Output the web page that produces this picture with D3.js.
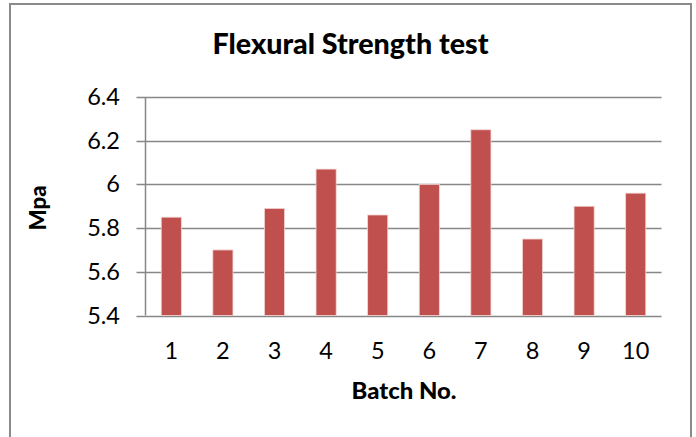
<!DOCTYPE html>
<html><head><meta charset="utf-8">
<script src="https://cdn.jsdelivr.net/npm/d3@7"></script>
<style>body{margin:0;background:#fff}svg{display:block}text{font-family:Lato,"Open Sans",sans-serif}</style>
</head><body>
<script>
const categories = ["1","2","3","4","5","6","7","8","9","10"];
const values = [5.85, 5.70, 5.89, 6.07, 5.86, 6.00, 6.25, 5.75, 5.90, 5.96];
const yTicks = [5.4, 5.6, 5.8, 6.0, 6.2, 6.4];
const yTickLabels = ["5.4","5.6","5.8","6","6.2","6.4"];
const title = "Flexural Strength test";
const xTitle = "Batch No.";
const yTitle = "Mpa";

const W = 696, H = 437;
const svg = d3.select("body").append("svg").attr("width", W).attr("height", H);
svg.append("rect").attr("width", W).attr("height", H).attr("fill", "#fff");
svg.append("rect").attr("x", 10).attr("y", 4).attr("width", 681).attr("height", 460)
  .attr("fill", "#fff").attr("stroke", "#8a8a8a").attr("stroke-width", 2);

const L = 145.5, R = 661.5, T = 97, B = 315.5;
const x = d3.scaleBand().domain(categories).range([L, R]).paddingInner(0.61).paddingOuter(0.305);
const y = d3.scaleLinear().domain([5.4, 6.4]).range([B, T]);

const g = svg.append("g");
g.selectAll("line.grid").data(yTicks).join("line")
  .attr("x1", L - 9).attr("x2", R)
  .attr("y1", d => Math.round(y(d)) + 0.5).attr("y2", d => Math.round(y(d)) + 0.5)
  .attr("stroke", "#878787").attr("stroke-width", 1.5);

g.selectAll("rect.bar").data(values).join("rect")
  .attr("x", (d, i) => x(categories[i]))
  .attr("width", x.bandwidth())
  .attr("y", d => y(d))
  .attr("height", d => y(5.4) - y(d))
  .attr("fill", "#C0504D")
  .attr("stroke", "#f2d4d3").attr("stroke-width", 0.8);

g.append("line").attr("x1", L).attr("x2", L).attr("y1", T).attr("y2", B)
  .attr("stroke", "#878787").attr("stroke-width", 1.5);

g.selectAll("text.yl").data(yTicks).join("text")
  .attr("x", 120).attr("y", d => y(d) + 8)
  .attr("text-anchor", "end").attr("font-size", 23.5).attr("fill", "#000")
  .text((d, i) => yTickLabels[i]);

g.selectAll("text.xl").data(categories).join("text")
  .attr("x", d => x(d) + x.bandwidth() / 2).attr("y", 358.5)
  .attr("text-anchor", "middle").attr("font-size", 23.5).attr("fill", "#000")
  .text(d => d);

svg.append("text").attr("x", 350.5).attr("y", 54).attr("text-anchor", "middle")
  .attr("font-size", 28).attr("font-weight", "900").attr("fill", "#000")
  .attr("textLength", 276).attr("lengthAdjust", "spacingAndGlyphs").text(title);

svg.append("text").attr("x", 404).attr("y", 398.5).attr("text-anchor", "middle")
  .attr("font-size", 22).attr("font-weight", "900").attr("fill", "#000")
  .attr("textLength", 105).attr("lengthAdjust", "spacingAndGlyphs").text(xTitle);

svg.append("text").attr("transform", "translate(46,208) rotate(-90)")
  .attr("text-anchor", "middle")
  .attr("font-size", 23).attr("font-weight", "900").attr("fill", "#000")
  .attr("textLength", 45).attr("lengthAdjust", "spacingAndGlyphs")
  .text(yTitle);
</script>
</body></html>
